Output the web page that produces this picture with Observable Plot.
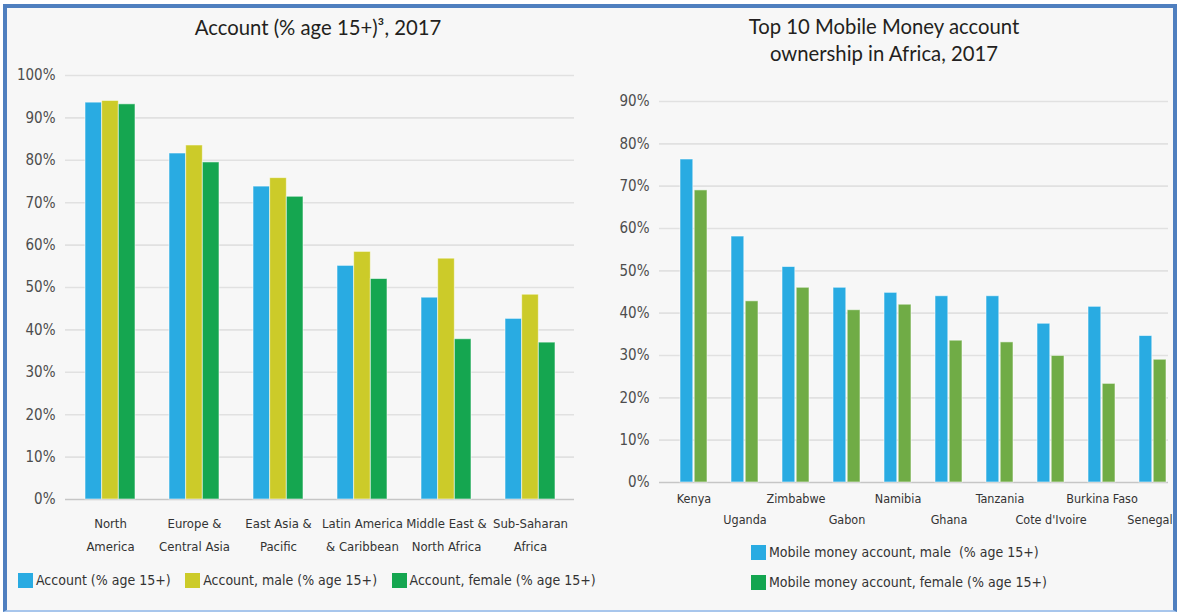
<!DOCTYPE html>
<html><head><meta charset="utf-8">
<script src="https://cdn.jsdelivr.net/npm/d3@7"></script>
<script src="https://cdn.jsdelivr.net/npm/@observablehq/plot@0.6"></script>
<style>
body{margin:0;background:#fff;}
#wrap{position:relative;width:1178px;height:613px;overflow:hidden;background:#fff;font-family:"Liberation Sans Narrow","DejaVu Sans Condensed",sans-serif;}
#frame{position:absolute;left:3px;top:4px;width:1166px;height:602px;background:#f7f7f7;border-left:4px solid #4f7fbf;border-top:4px solid #4f7fbf;border-right:4px solid #4f7fbf;border-bottom:2px solid #a8c6ec;}
.title{position:absolute;font-family:Lato,"Open Sans",sans-serif;font-size:20.3px;color:#231f20;text-align:center;line-height:27px;white-space:nowrap;}
.plot{position:absolute;z-index:2;}
.plot svg{overflow:visible;}
.legend{position:absolute;display:flex;font-size:14px;color:#333;white-space:nowrap;}
.item{display:flex;align-items:center;height:20px;}
.sw{width:15px;height:15px;margin-right:3px;flex:none;}
</style></head>
<body><div id="wrap"><div id="frame"></div>
<div class="title" id="t1" style="left:118px;width:400px;top:14px;">Account (% age 15+)³, 2017</div>
<div class="title" id="t2" style="left:684px;width:400px;top:13px;">Top 10 Mobile Money account<br>ownership in Africa, 2017</div>
<div class="plot" id="p1" style="left:0;top:60px;"></div>
<div class="plot" id="p2" style="left:600px;top:60px;"></div>
<div class="legend" id="lg1" style="left:18px;top:570px;gap:14.5px;"></div>
<div class="legend" id="lg2" style="left:751px;top:542px;flex-direction:column;gap:10px;"></div>
</div>
<script>
// ---- Left chart data ----
const regions = ["North America","Europe & Central Asia","East Asia & Pacific","Latin America & Caribbean","Middle East & North Africa","Sub-Saharan Africa"];
const regionLabels = ["North\nAmerica","Europe &\nCentral Asia","East Asia &\nPacific","Latin America\n& Caribbean","Middle East &\nNorth Africa","Sub-Saharan\nAfrica"];
const accountAll = [93.6, 81.6, 73.8, 55.1, 47.6, 42.6];
const accountMale = [94.0, 83.5, 75.8, 58.4, 56.8, 48.3];
const accountFemale = [93.2, 79.5, 71.4, 52.0, 37.8, 37.0];
const leftSeries = ["Account (% age 15+)","Account, male (% age 15+)","Account, female (% age 15+)"];
const leftColors = ["#29abe2","#cccb29","#15a650"];
const leftTicks = [0,10,20,30,40,50,60,70,80,90,100];

// ---- Right chart data ----
const countries = ["Kenya","Uganda","Zimbabwe","Gabon","Namibia","Ghana","Tanzania","Cote d'Ivoire","Burkina Faso","Senegal"];
const mmMale = [76.3, 58.1, 50.9, 46.0, 44.8, 44.0, 44.0, 37.5, 41.5, 34.6];
const mmFemale = [69.0, 42.8, 46.0, 40.7, 42.0, 33.5, 33.1, 29.9, 23.3, 29.0];
const rightSeries = ["Mobile money account, male\u00a0 (% age 15+)","Mobile money account, female (% age 15+)"];
const rightColors = ["#29abe2","#70ac46"];
const rightLegendColors = ["#29abe2","#13a54f"];
const rightTicks = [0,10,20,30,40,50,60,70,80,90];

const FONT = '"Liberation Sans Narrow","DejaVu Sans Condensed",sans-serif';

function makeLeft(bw){
  const vals = [accountAll, accountMale, accountFemale];
  const data = regions.flatMap((r,i)=>vals.map((v,j)=>({cat:r, series:j, value:v[i]})));
  const n = vals.length;
  return Plot.plot({
    width:600, height:500, marginTop:15, marginBottom:61, marginLeft:65, marginRight:26,
    style:{background:"transparent", fontFamily:FONT, overflow:"visible"},
    x:{domain:regions, paddingInner:0.41, paddingOuter:0.2, axis:null},
    y:{domain:[0,100], axis:null},
    marks:[
      Plot.ruleY(leftTicks.filter(t=>t>0), {stroke:"#e1e1e1", strokeWidth:1.6}),
      Plot.ruleY([0], {stroke:"#c6c6c6", strokeWidth:1.6}),
      ...vals.map((v,j)=>Plot.barY(data.filter(d=>d.series===j), {
        x:"cat", y:"value", fill:leftColors[j],
        insetLeft:j*bw/n, insetRight:(n-1-j)*bw/n,
        stroke:"#ffffff", strokeOpacity:0.55, strokeWidth:1
      })),
      Plot.text(leftTicks, {y:d=>d, text:d=>d+"%", frameAnchor:"left", dx:-10, textAnchor:"end", fontSize:15, fill:"#4d4d4d"}),
      Plot.text(regions, {x:d=>d, text:(d,i)=>regionLabels[i], frameAnchor:"bottom", lineAnchor:"top", dy:12, lineHeight:1.77, fontSize:13, fill:"#333"})
    ]
  });
}

function makeRight(bw){
  const vals = [mmMale, mmFemale];
  const data = countries.flatMap((c,i)=>vals.map((v,j)=>({cat:c, series:j, value:v[i]})));
  const n = vals.length;
  const last = countries.length - 1;
  return Plot.plot({
    width:578, height:470, marginTop:41, marginBottom:48, marginLeft:59, marginRight:10,
    style:{background:"transparent", fontFamily:FONT, overflow:"visible"},
    x:{domain:countries, paddingInner:0.48, paddingOuter:0.21, align:0.88, axis:null},
    y:{domain:[0,90], axis:null},
    marks:[
      Plot.ruleY(rightTicks.filter(t=>t>0), {stroke:"#e1e1e1", strokeWidth:1.6}),
      Plot.ruleY([0], {stroke:"#c6c6c6", strokeWidth:1.6}),
      ...vals.map((v,j)=>Plot.barY(data.filter(d=>d.series===j), {
        x:"cat", y:"value", fill:rightColors[j],
        insetLeft:j*bw/n + (j>0?0.7:0), insetRight:(n-1-j)*bw/n + (j<n-1?0.7:0),
        stroke:"#ffffff", strokeOpacity:0.55, strokeWidth:1
      })),
      Plot.text(rightTicks, {y:d=>d, text:d=>d+"%", frameAnchor:"left", dx:-10, textAnchor:"end", fontSize:15, fill:"#4d4d4d"}),
      Plot.text(countries.filter((c,i)=>i%2===0), {x:d=>d, text:d=>d, frameAnchor:"bottom", lineAnchor:"middle", dy:16, fontSize:12.5, fill:"#333"}),
      Plot.text(countries.filter((c,i)=>i%2===1 && i!==last), {x:d=>d, text:d=>d, frameAnchor:"bottom", lineAnchor:"middle", dy:37, fontSize:12.5, fill:"#333"}),
      Plot.text(countries.filter((c,i)=>i===last), {x:d=>d, text:d=>d, frameAnchor:"bottom", lineAnchor:"middle", dy:37, dx:-3, fontSize:12.5, fill:"#333"})
    ]
  });
}

const l0 = makeLeft(0);
const lbw = l0.scale("x").bandwidth;
document.getElementById("p1").appendChild(makeLeft(lbw));
const r0 = makeRight(0);
const rbw = r0.scale("x").bandwidth;
document.getElementById("p2").appendChild(makeRight(rbw));

function legend(el, names, colors){
  names.forEach((name,i)=>{
    const it = document.createElement("div"); it.className="item";
    const sw = document.createElement("div"); sw.className="sw"; sw.style.background=colors[i];
    const tx = document.createElement("span"); tx.textContent=name;
    it.appendChild(sw); it.appendChild(tx); el.appendChild(it);
  });
}
legend(document.getElementById("lg1"), leftSeries, leftColors);
legend(document.getElementById("lg2"), rightSeries, rightLegendColors);
</script>
</body></html>
